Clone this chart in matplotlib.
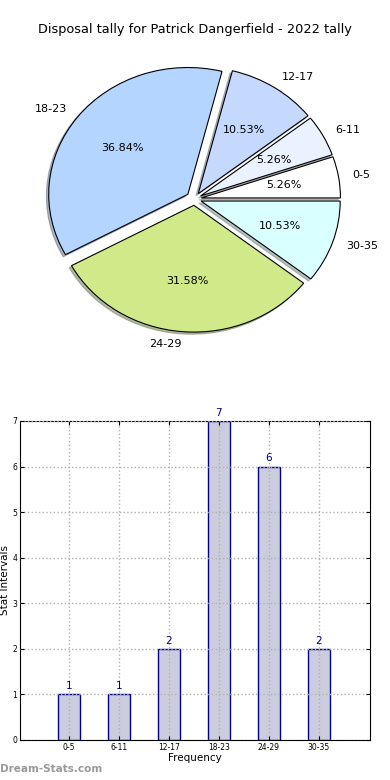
import matplotlib
matplotlib.use('Agg')
import matplotlib.pyplot as plt

categories = ['0-5', '6-11', '12-17', '18-23', '24-29', '30-35']
counts = [1, 1, 2, 7, 6, 2]
pie_colors = ['#ffffff', '#eaf1ff', '#c5d9ff', '#b4d5ff', '#d0ea8a', '#d9ffff']
explode = [0.05, 0.05, 0.05, 0.06, 0.05, 0.05]

title = 'Disposal tally for Patrick Dangerfield - 2022 tally'

fig = plt.figure(figsize=(3.9, 7.8), dpi=100)

# pie on the top half, not circular (stretched axes)
ax1 = fig.add_axes([0.0526, 0.5417, 0.892, 0.4064])
wedges, texts, autotexts = ax1.pie(counts, labels=categories, colors=pie_colors,
                                   explode=explode, autopct='%1.2f%%',
                                   shadow={'ox': -0.012, 'oy': -0.012, 'shade': 0.5},
                                   startangle=0, counterclock=True,
                                   wedgeprops={'linewidth': 0.8, 'edgecolor': 'black'},
                                   textprops={'fontsize': 8})
ax1.set_aspect('auto')
ax1.set_xlim(-1.25, 1.25)
ax1.set_ylim(-1.25, 1.25)
fig.text(0.5, 1 - 30 / 780, title, ha='center', va='center', fontsize=9.3)

# bar chart
ax2 = fig.add_axes([0.0513, 0.0513, 0.897, 0.409])
x = list(range(len(categories)))
ax2.bar(x, counts, width=0.45, color='#ccccdf', edgecolor='#00008b', linewidth=1, zorder=2)
for i, v in enumerate(counts):
    ax2.text(i, v + 0.07, str(v), ha='center', va='bottom', fontsize=7.5, color='#00008b')
ax2.set_xlim(-0.98, 6.02)
ax2.set_ylim(0, 7)
ax2.set_xticks(x)
ax2.set_xticklabels(categories, fontsize=5.5)
ax2.set_yticks(range(8))
ax2.tick_params(axis='y', labelsize=5.5)
ax2.tick_params(direction='in', top=True, right=True, length=3, pad=2)
ax2.grid(True, linestyle=':', color='#b0b0b0', linewidth=1, zorder=3)
ax2.set_axisbelow(False)
ax2.set_xlabel('Frequency', fontsize=7.5, labelpad=1)
ax2.set_ylabel('Stat Intervals', fontsize=7.5, labelpad=2)

fig.text(0.0, 6 / 780, 'Dream-Stats.com', fontsize=7.5, color='#999999',
         fontweight='bold', ha='left', va='bottom')

fig.savefig('out.png', dpi=100)
